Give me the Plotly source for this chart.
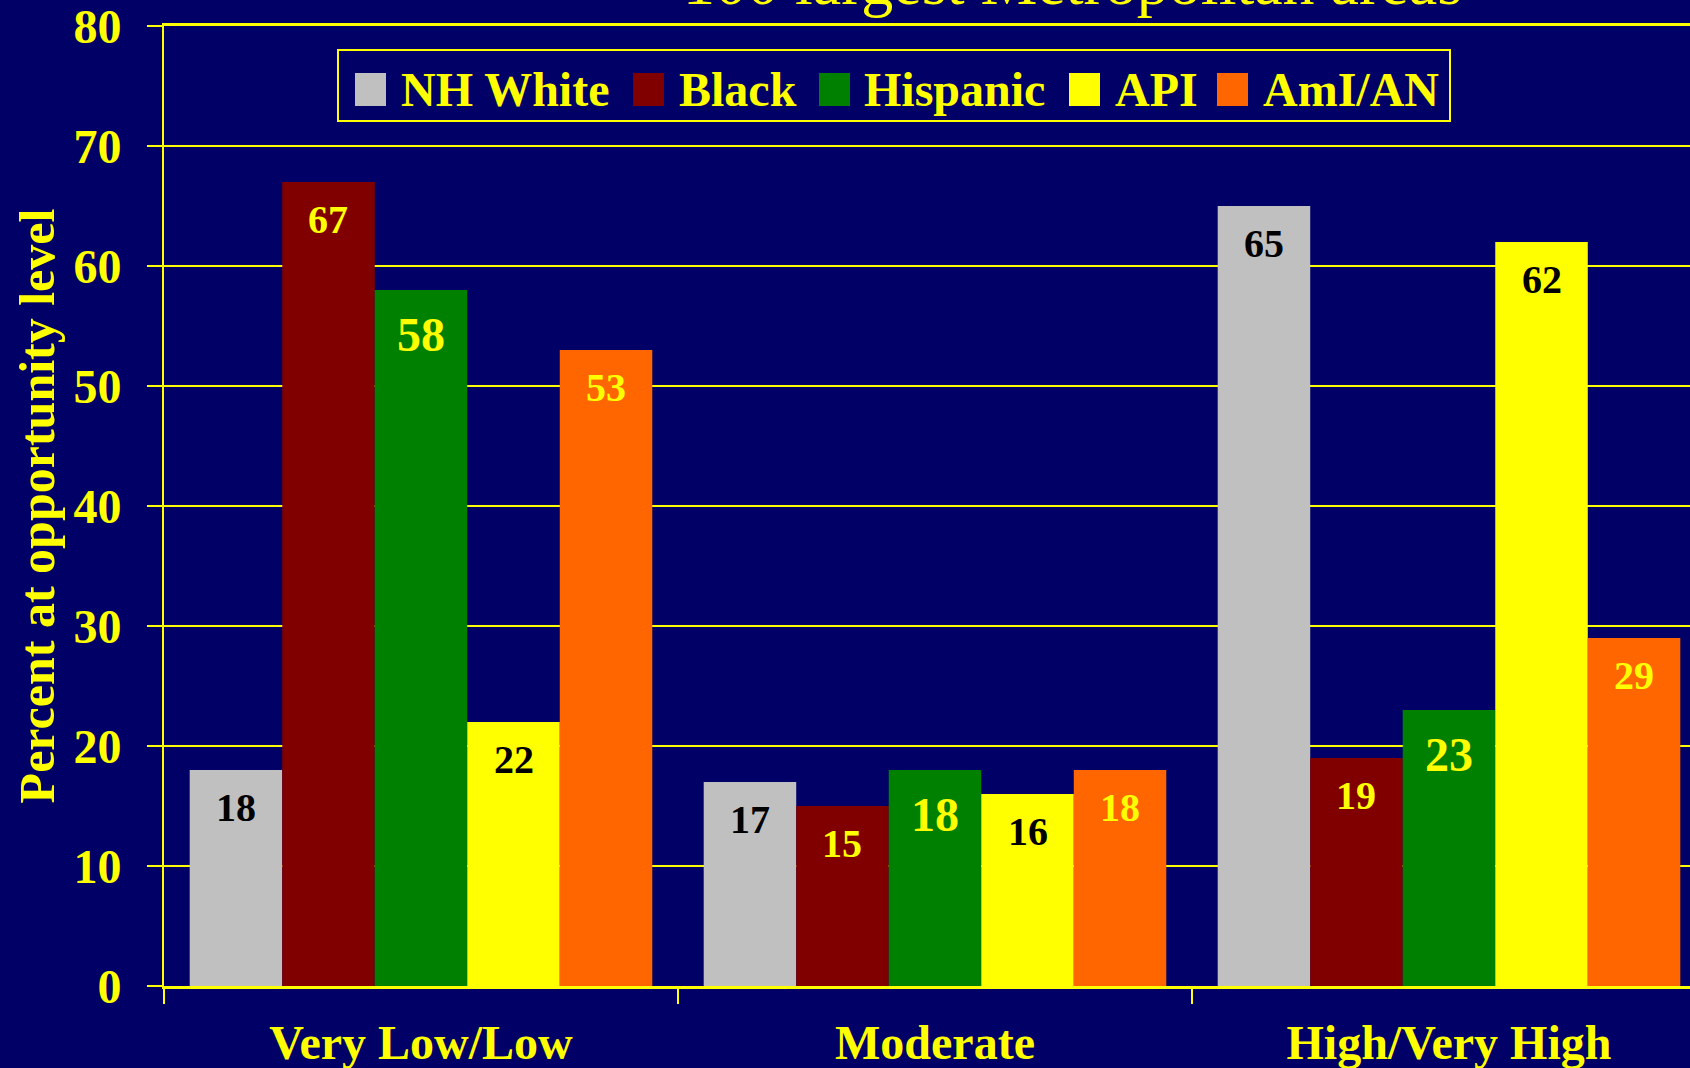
import plotly.graph_objects as go

categories = ["Very Low/Low", "Moderate", "High/Very High"]
series_names = ["NH White", "Black", "Hispanic", "API", "AmI/AN"]
nh_white = [18, 17, 65]
black = [67, 15, 19]
hispanic = [58, 18, 23]
api = [22, 16, 62]
aman = [53, 18, 29]
series_values = [nh_white, black, hispanic, api, aman]

bar_colors = ["#C0C0C0", "#800000", "#008000", "#FFFF00", "#FF6600"]
label_colors = ["#000000", "#FFFF00", "#FFFF00", "#000000", "#FFFF00"]
label_sizes = [40, 40, 48, 40, 40]

title_text = "100 largest Metropolitan areas"
y_title = "Percent at opportunity level"
y_ticks = [0, 10, 20, 30, 40, 50, 60, 70, 80]

BG = "#000066"
YEL = "#FFFF00"
FONT = "Liberation Serif, Times New Roman, serif"

W_FIG, H_FIG = 1690, 1068
L, T, R, B = 164, 26, 0, 82
PW = W_FIG - L - R
PH = H_FIG - T - B
CAT_PX = 514  # pixel width of one category band
BARGAP = 0.1
BAR_PX = CAT_PX * (1 - BARGAP) / len(series_names)


def px_x(px):
    return (px - L) / PW


def px_y(py):
    return (H_FIG - B - py) / PH


fig = go.Figure()
annotations = []
n = len(series_names)
for i, (name, vals, col, lc, ls) in enumerate(zip(series_names, series_values, bar_colors, label_colors, label_sizes)):
    fig.add_trace(go.Bar(
        x=categories, y=vals, name=name,
        marker=dict(color=col, line=dict(width=0)),
        showlegend=False,
        hoverinfo="skip",
    ))
    # value labels just inside the top of each bar
    for cat, v in zip(categories, vals):
        annotations.append(dict(
            text=str(v), x=cat, y=v, xref="x", yref="y",
            xshift=(i - (n - 1) / 2) * BAR_PX,
            yanchor="top", yshift=-(14 if ls == 40 else 17),
            showarrow=False, borderpad=0,
            font=dict(family=FONT, size=ls, color=lc, weight="bold"),
        ))

# Manual legend (large square swatches like the original)
legend_box = (338, 50, 1450, 121)
swatch_left = [355, 633, 819, 1069, 1217]
text_left = [400, 678, 863, 1114, 1262]
sw_top, sw_bot = 73, 106
text_mid = 89

shapes = [dict(type="rect", xref="paper", yref="paper",
               x0=px_x(legend_box[0]), x1=px_x(legend_box[2]),
               y0=px_y(legend_box[3]), y1=px_y(legend_box[1]),
               line=dict(color=YEL, width=2), fillcolor=BG, layer="above")]
for name, col, sx, tx in zip(series_names, bar_colors, swatch_left, text_left):
    shapes.append(dict(type="rect", xref="paper", yref="paper",
                       x0=px_x(sx), x1=px_x(sx + 31),
                       y0=px_y(sw_bot), y1=px_y(sw_top),
                       line=dict(width=0), fillcolor=col, layer="above"))
    annotations.append(dict(text=name, xref="paper", yref="paper",
                            x=px_x(tx), y=px_y(text_mid),
                            xanchor="left", yanchor="middle", showarrow=False,
                            borderpad=0,
                            font=dict(family=FONT, size=48, color=YEL, weight="bold")))

annotations.append(dict(text=title_text, xref="paper", yref="paper",
                        x=px_x(1072), y=px_y(19), xanchor="center", yanchor="bottom",
                        showarrow=False, borderpad=0,
                        font=dict(family=FONT, size=64, color=YEL)))

fig.update_layout(
    width=W_FIG, height=H_FIG,
    margin=dict(l=L, r=R, t=T, b=B, pad=0, autoexpand=False),
    paper_bgcolor=BG, plot_bgcolor=BG,
    barmode="group", bargap=BARGAP, bargroupgap=0,
    font=dict(family=FONT, color=YEL),
    shapes=shapes, annotations=annotations,
    showlegend=False,
)
fig.update_xaxes(
    range=[-0.5, -0.5 + PW / CAT_PX],
    showline=True, linecolor=YEL, linewidth=3, mirror=True,
    ticks="outside", tickson="boundaries", ticklen=15, tickwidth=2, tickcolor=YEL,
    tickfont=dict(family=FONT, size=48, color=YEL, weight="bold"),
    ticklabelstandoff=12,
    showgrid=False, zeroline=False, automargin=False,
)
fig.update_yaxes(
    range=[0, 80], tickvals=y_ticks,
    showline=True, linecolor=YEL, linewidth=2,
    showgrid=True, gridcolor=YEL, gridwidth=2,
    zeroline=False,
    ticks="outside", ticklen=15, tickwidth=2, tickcolor=YEL,
    tickfont=dict(family=FONT, size=48, color=YEL, weight="bold"),
    ticklabelstandoff=16, ticklabeloverflow="allow",
    title=dict(text=y_title, standoff=3,
               font=dict(family=FONT, size=50, color=YEL, weight="bold")),
    automargin=False,
)

fig.write_html("out.html", config={"displayModeBar": False},
               post_script="document.body.style.margin='0';")
